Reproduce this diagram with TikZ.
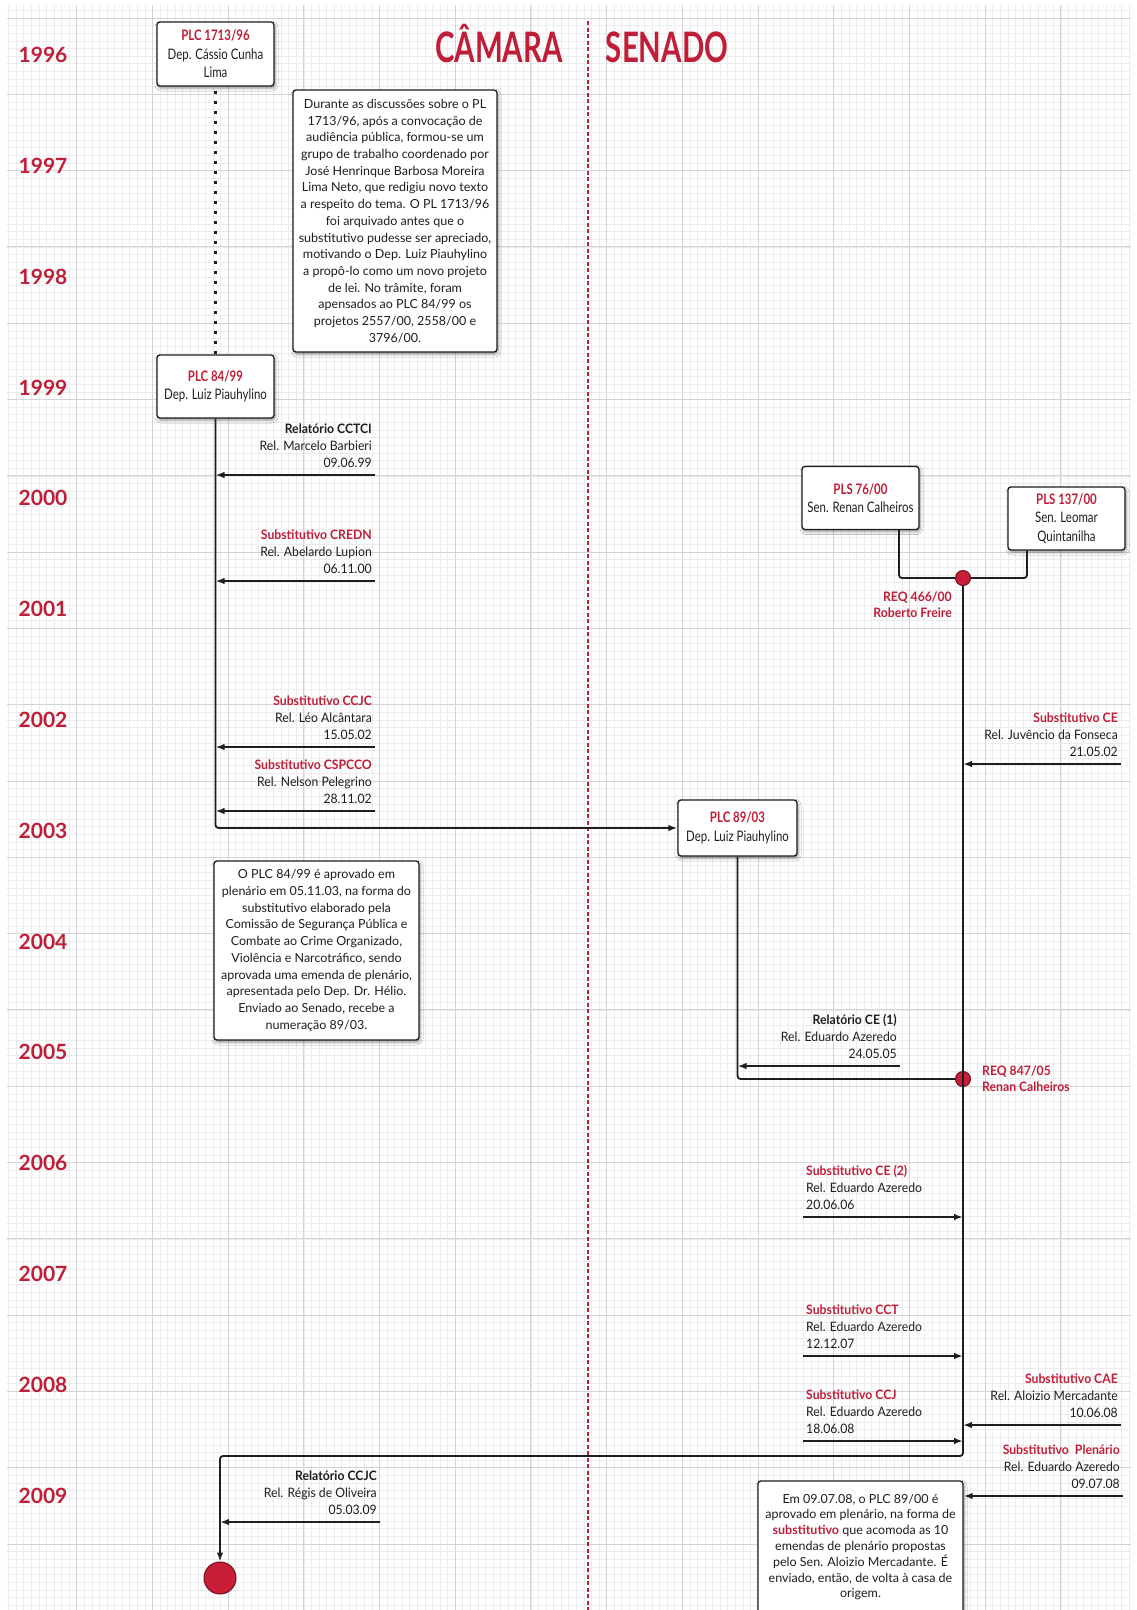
\documentclass[tikz,border=0pt]{standalone}
\usepackage{fontspec}
\setmainfont{Lato}
\newfontfamily\condfont[FakeStretch=0.79]{Lato}
\newfontfamily\labfont[FakeStretch=0.94]{Lato}
\newfontfamily\titlefont[FakeStretch=0.7]{Lato}
\usetikzlibrary{arrows.meta,shadows.blur}
\definecolor{accent}{RGB}{192,30,56}
\definecolor{ink}{RGB}{30,30,30}
\definecolor{minorg}{RGB}{236,236,236}
\definecolor{majorg}{RGB}{212,212,212}
\definecolor{dotred}{RGB}{200,30,55}
\definecolor{dotrim}{RGB}{110,15,30}
\newcommand\redb[1]{\textcolor{accent}{\bfseries #1}}
\tikzset{
  box/.style={draw=ink, line width=1.3pt, fill=white, rounded corners=3pt,
    inner sep=0pt, align=center, text=ink,
    blur shadow={shadow xshift=1pt, shadow yshift=-2pt, shadow blur radius=3pt, shadow opacity=45}},
  headbox/.style={box, font=\condfont\fontsize{14.5}{18.5}\selectfont},
  notebox/.style={box, font=\fontsize{12.5}{16.7}\selectfont},
  flow/.style={draw=ink, line width=1.8pt},
  arr/.style={flow, -{Latex[length=9pt,width=6.5pt]}},
  lab/.style={inner sep=0pt, align=right, anchor=south east, text=ink,
    font=\labfont\fontsize{13}{17}\selectfont},
  labl/.style={lab, align=left, anchor=south west},
  reqlab/.style={inner sep=0pt, text=accent, font=\labfont\bfseries\fontsize{13}{16.5}\selectfont},
  year/.style={text=accent, font=\bfseries\fontsize{21}{21}\selectfont, anchor=base, inner sep=0pt},
  reqdot/.style={circle, fill=dotred, draw=dotrim, line width=1pt, minimum size=15pt, inner sep=0pt},
  minorline/.style={draw=minorg, line width=0.6pt},
  majorline/.style={draw=majorg, line width=0.9pt},
}
\begin{document}
\begin{tikzpicture}[x=1pt,y=-1pt]
\useasboundingbox (0,0) rectangle (1136,1610);
\fill[white] (0,0) rectangle (1136,1610);
% grid
\foreach \i in {1,...,149} {\draw[minorline] ({1+7.57*\i},5) -- ({1+7.57*\i},1610);}
\foreach \j in {-1,...,208} {\draw[minorline] (7,{18+7.63*\j}) -- (1131,{18+7.63*\j});}
\foreach \k in {1,...,14} {\draw[majorline] ({1+75.7*\k},5) -- ({1+75.7*\k},1610);}
\foreach \k in {0,...,20} {\draw[majorline] (7,{18+76.3*\k}) -- (1131,{18+76.3*\k});}

% divider
\coordinate (divtop) at (588,21);
\coordinate (divbot) at (588,1610);
\draw[accent, line width=1.6pt, dash pattern=on 4pt off 2.5pt] (divtop) -- (divbot);

% titles
\node[anchor=base, text=accent, inner sep=0pt, font=\titlefont\bfseries\fontsize{42}{42}\selectfont] (camara) at (499,62) {CÂMARA};
\node[anchor=base, text=accent, inner sep=0pt, font=\titlefont\bfseries\fontsize{42}{42}\selectfont] (senado) at (667,62) {SENADO};

% years
\foreach \yr [count=\k from 0] in {1996,...,2009}
  \node[year] (y\yr) at (43,{62.6+110.8*\k}) {\yr};

% boxes
\node[headbox, minimum width=117pt, minimum height=64pt] (plc1713) at (215.5,54) {\redb{PLC 1713/96}\\Dep. Cássio Cunha\\Lima};
\node[headbox, minimum width=117pt, minimum height=63pt] (plc84) at (215.5,386.5) {\redb{PLC 84/99}\\Dep. Luiz Piauhylino};
\node[headbox, minimum width=119pt, minimum height=56pt] (plc89) at (737.5,828) {\redb{PLC 89/03}\\Dep. Luiz Piauhylino};
\node[headbox, minimum width=117pt, minimum height=63pt] (pls76) at (860.5,498) {\redb{PLS 76/00}\\Sen. Renan Calheiros};
\node[headbox, minimum width=117pt, minimum height=63pt] (pls137) at (1066.5,518.5) {\redb{PLS 137/00}\\Sen. Leomar\\Quintanilha};

\node[notebox, minimum width=204pt, minimum height=262pt] (note1) at (395,221) {Durante as discussões sobre o PL\\
1713/96, após a convocação de\\
audiência pública, formou-se um\\
grupo de trabalho coordenado por\\
José Henrinque Barbosa Moreira\\
Lima Neto, que redigiu novo texto\\
a respeito do tema. O PL 1713/96\\
foi arquivado antes que o\\
substitutivo pudesse ser apreciado,\\
motivando o Dep. Luiz Piauhylino\\
a propô-lo como um novo projeto\\
de lei. No trâmite, foram\\
apensados ao PLC 84/99 os\\
projetos 2557/00, 2558/00 e\\
3796/00.};

\node[notebox, minimum width=205pt, minimum height=179pt] (note2) at (316.5,950.5) {O PLC 84/99 é aprovado em\\
plenário em 05.11.03, na forma do\\
substitutivo elaborado pela\\
Comissão de Segurança Pública e\\
Combate ao Crime Organizado,\\
Violência e Narcotráfico, sendo\\
aprovada uma emenda de plenário,\\
apresentada pelo Dep. Dr. Hélio.\\
Enviado ao Senado, recebe a\\
numeração 89/03.};

\node[notebox, font=\fontsize{12.5}{15.8}\selectfont, minimum width=205pt, minimum height=132pt] (note3) at (860.5,1547) {Em 09.07.08, o PLC 89/00 é\\
aprovado em plenário, na forma de\\
\redb{substitutivo} que acomoda as 10\\
emendas de plenário propostas\\
pelo Sen. Aloizio Mercadante. É\\
enviado, então, de volta à casa de\\
origem.};

% dots
\node[reqdot] (req466) at (963,578) {};
\node[reqdot] (req847) at (963,1079) {};
\node[reqdot, minimum size=32pt] (enddot) at (220,1578) {};

% main connectors
\draw[draw=ink, line width=2.4pt, dash pattern=on 3pt off 7pt, dash phase=-4pt] (plc1713.south) -- (plc84.north);
\coordinate (c1) at (215.5,828);
\draw[flow, rounded corners=3pt, -{Latex[length=9pt,width=6.5pt]}] (plc84.south) -- (c1) -- (plc89.west);
\coordinate (j1) at (899,578);
\coordinate (j2) at (1027,578);
\draw[flow, rounded corners=3pt] (pls76.south -| j1) -- (j1) -- (req466);
\draw[flow, rounded corners=3pt] (pls137.south -| j2) -- (j2) -- (req466);
\coordinate (j3) at (737.5,1079);
\draw[flow, rounded corners=3pt] (plc89.south) -- (j3) -- (req847);
\coordinate (c2) at (963,1456);
\coordinate (c3) at (220,1456);
\draw[flow, rounded corners=3pt, -{Latex[length=9pt,width=6.5pt]}] (req466) -- (c2) -- (c3) -- (enddot.north);

% Camara annotations
\coordinate (s1) at (375,475);
\draw[arr] (s1) -- (s1 -| plc84);
\node[lab] (l1) at (372,468) {\textbf{Relatório CCTCI}\\Rel. Marcelo Barbieri\\09.06.99};
\coordinate (s2) at (375,581);
\draw[arr] (s2) -- (s2 -| plc84);
\node[lab] (l2) at (372,574) {\redb{Substitutivo CREDN}\\Rel. Abelardo Lupion\\06.11.00};
\coordinate (s3) at (375,747);
\draw[arr] (s3) -- (s3 -| plc84);
\node[lab] (l3) at (372,740) {\redb{Substitutivo CCJC}\\Rel. Léo Alcântara\\15.05.02};
\coordinate (s4) at (375,811);
\draw[arr] (s4) -- (s4 -| plc84);
\node[lab] (l4) at (372,804) {\redb{Substitutivo CSPCCO}\\Rel. Nelson Pelegrino\\28.11.02};
\coordinate (s5) at (380,1522);
\draw[arr] (s5) -- (s5 -| enddot);
\node[lab] (l5) at (377,1515) {\textbf{Relatório CCJC}\\Rel. Régis de Oliveira\\05.03.09};

% Senado annotations
\node[reqlab, align=right, anchor=south east] (lreq466) at (952,618) {REQ 466/00\\Roberto Freire};
\node[reqlab, align=left, anchor=south west] (lreq847) at (982,1092) {REQ 847/05\\Renan Calheiros};

\coordinate (s6) at (1121,764);
\draw[arr] (s6) -- (s6 -| req466);
\node[lab] (l6) at (1118,757) {\redb{Substitutivo CE}\\Rel. Juvêncio da Fonseca\\21.05.02};
\coordinate (s7) at (900,1066);
\draw[arr] (s7) -- (s7 -| plc89);
\node[lab] (l7) at (897,1059) {\textbf{Relatório CE (1)}\\Rel. Eduardo Azeredo\\24.05.05};
\coordinate (s8) at (803,1217);
\draw[arr] (s8) -- (s8 -| req466);
\node[labl] (l8) at (806,1210) {\redb{Substitutivo CE (2)}\\Rel. Eduardo Azeredo\\20.06.06};
\coordinate (s9) at (803,1356);
\draw[arr] (s9) -- (s9 -| req466);
\node[labl] (l9) at (806,1349) {\redb{Substitutivo CCT}\\Rel. Eduardo Azeredo\\12.12.07};
\coordinate (s10) at (803,1441);
\draw[arr] (s10) -- (s10 -| req466);
\node[labl] (l10) at (806,1434) {\redb{Substitutivo CCJ}\\Rel. Eduardo Azeredo\\18.06.08};
\coordinate (s11) at (1121,1425);
\draw[arr] (s11) -- (s11 -| req466);
\node[lab] (l11) at (1118,1418) {\redb{Substitutivo CAE}\\Rel. Aloizio Mercadante\\10.06.08};
\coordinate (s12) at (1123,1496);
\draw[arr] (s12) -- (s12 -| note3.east);
\node[lab] (l12) at (1120,1489) {\redb{Substitutivo\ \ Plenário}\\Rel. Eduardo Azeredo\\09.07.08};
\end{tikzpicture}
\end{document}
